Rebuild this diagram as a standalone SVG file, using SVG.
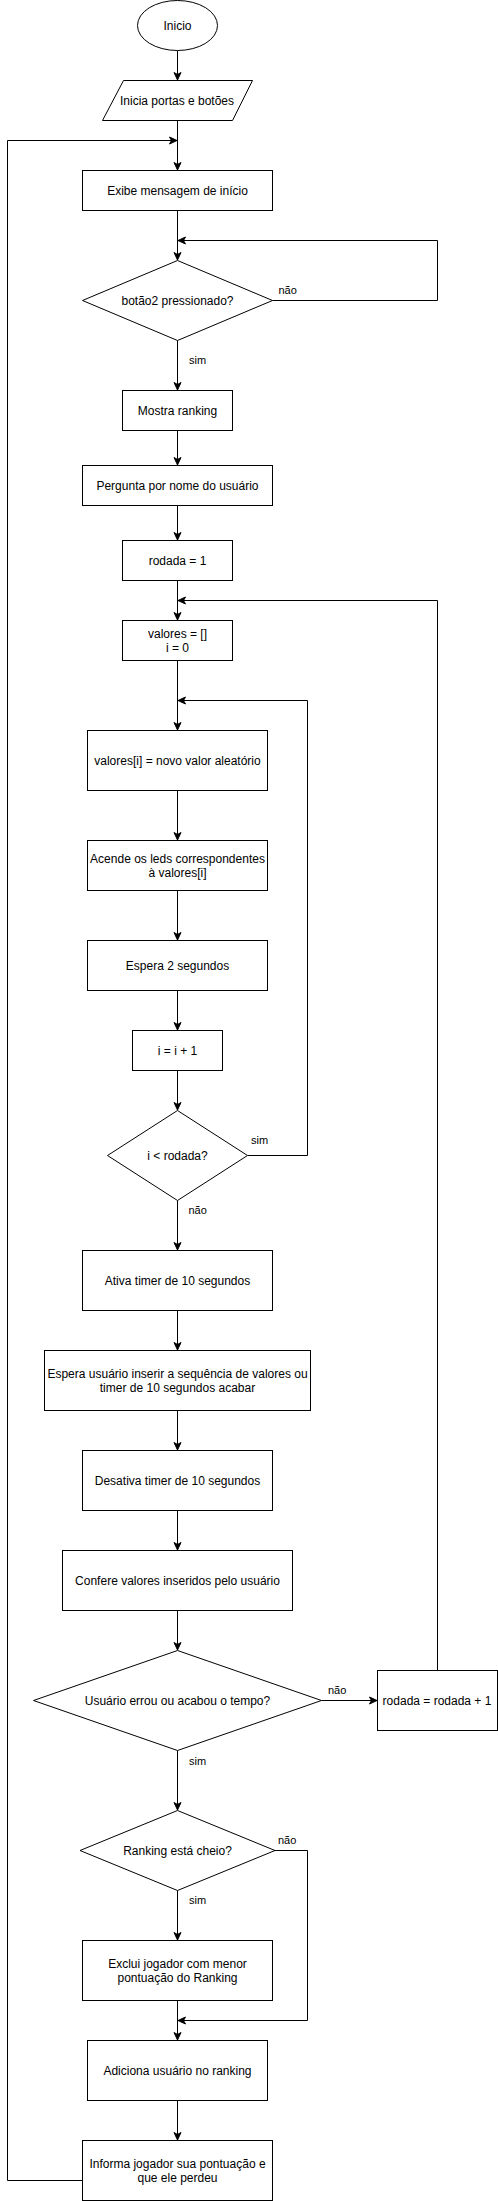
<svg xmlns="http://www.w3.org/2000/svg" width="498" height="2201" viewBox="0 0 498 2201">
<style>
.s{fill:#fff;stroke:#000;stroke-width:1}
.t{font-family:"Liberation Sans",Arial,sans-serif;font-size:12px;fill:#000;text-anchor:middle}
.l{font-family:"Liberation Sans",Arial,sans-serif;font-size:11px;fill:#000}
.c{fill:none;stroke:#000;stroke-width:1;marker-end:url(#arr)}
</style>
<defs>
<marker id="arr" markerUnits="userSpaceOnUse" markerWidth="10" markerHeight="10" viewBox="0 0 10 10" refX="9" refY="5" orient="auto">
<path d="M1.5,1.5 L9,5 L1.5,8.5 L3.5,5 Z" fill="#000" stroke="#000" stroke-width="1"/>
</marker>
</defs>
<rect width="498" height="2201" fill="#fff"/>
<g id="connectors">
<path class="c" d="M177.5,50.5 V80"/>
<path class="c" d="M177.5,120.5 V170"/>
<path class="c" d="M82.5,2180.5 H7.5 V140.5 H177"/>
<path class="c" d="M177.5,210.5 V260"/>
<path class="c" d="M272.5,300.5 H437.5 V240.5 H178"/>
<path class="c" d="M177.5,340.5 V390"/>
<path class="c" d="M177.5,430.5 V465"/>
<path class="c" d="M177.5,505.5 V540"/>
<path class="c" d="M177.5,580.5 V620"/>
<path class="c" d="M437.5,1670.5 V600.5 H178"/>
<path class="c" d="M177.5,660.5 V730"/>
<path class="c" d="M247.5,1155.5 H307.5 V700.5 H178"/>
<path class="c" d="M177.5,790.5 V840"/>
<path class="c" d="M177.5,890.5 V940"/>
<path class="c" d="M177.5,990.5 V1030"/>
<path class="c" d="M177.5,1070.5 V1110"/>
<path class="c" d="M177.5,1200.5 V1250"/>
<path class="c" d="M177.5,1310.5 V1350"/>
<path class="c" d="M177.5,1410.5 V1450"/>
<path class="c" d="M177.5,1510.5 V1550"/>
<path class="c" d="M177.5,1610.5 V1650"/>
<path class="c" d="M321.5,1700.5 H377"/>
<path class="c" d="M177.5,1750.5 V1810"/>
<path class="c" d="M275,1850.5 H307.5 V2020.5 H178"/>
<path class="c" d="M177.5,1890.5 V1940"/>
<path class="c" d="M177.5,2000.5 V2040"/>
<path class="c" d="M177.5,2100.5 V2140"/>
<text class="l" x="278.5" y="294">não</text>
<text class="l" x="189" y="364">sim</text>
<text class="l" x="251" y="1144">sim</text>
<text class="l" x="188.5" y="1214">não</text>
<text class="l" x="328" y="1694">não</text>
<text class="l" x="189" y="1765">sim</text>
<text class="l" x="278" y="1844">não</text>
<text class="l" x="189" y="1904">sim</text>
</g>
<g id="inicio"><ellipse class="s" cx="177.5" cy="25.5" rx="40" ry="25"/><text class="t" x="177.5" y="29.5">Inicio</text></g>
<g id="inicia-portas"><polygon class="s" points="123.5,80.5 252.5,80.5 232.5,120.5 102.5,120.5"/><text class="t" x="177" y="104.5">Inicia portas e botões</text></g>
<g id="exibe-mensagem"><rect class="s" x="82.5" y="170.5" width="190" height="40"/><text class="t" x="177.5" y="194.5">Exibe mensagem de início</text></g>
<g id="botao2"><polygon class="s" points="177.5,260.5 272.5,300.5 177.5,340.5 82.5,300.5"/><text class="t" x="177.5" y="304.5">botão2 pressionado?</text></g>
<g id="mostra-ranking"><rect class="s" x="122.5" y="390.5" width="110" height="40"/><text class="t" x="177.5" y="414.5">Mostra ranking</text></g>
<g id="pergunta-nome"><rect class="s" x="82.5" y="465.5" width="190" height="40"/><text class="t" x="177.5" y="489.5">Pergunta por nome do usuário</text></g>
<g id="rodada-1"><rect class="s" x="122.5" y="540.5" width="110" height="40"/><text class="t" x="177.5" y="564.5">rodada = 1</text></g>
<g id="valores-init"><rect class="s" x="122.5" y="620.5" width="110" height="40"/><text class="t" x="177.5" y="637.5">valores = []</text><text class="t" x="177.5" y="651.5">i = 0</text></g>
<g id="novo-valor"><rect class="s" x="87.5" y="730.5" width="180" height="60"/><text class="t" x="177.5" y="764.5">valores[i] = novo valor aleatório</text></g>
<g id="acende-leds"><rect class="s" x="87.5" y="840.5" width="180" height="50"/><text class="t" x="177.5" y="862.5">Acende os leds correspondentes</text><text class="t" x="177.5" y="876.5">à valores[i]</text></g>
<g id="espera-2s"><rect class="s" x="87.5" y="940.5" width="180" height="50"/><text class="t" x="177.5" y="969.5">Espera 2 segundos</text></g>
<g id="i-inc"><rect class="s" x="132.5" y="1030.5" width="90" height="40"/><text class="t" x="177.5" y="1054.5">i = i + 1</text></g>
<g id="i-menor"><polygon class="s" points="177.5,1110.5 247.5,1155.5 177.5,1200.5 107.5,1155.5"/><text class="t" x="177.5" y="1159.5">i &lt; rodada?</text></g>
<g id="ativa-timer"><rect class="s" x="82.5" y="1250.5" width="190" height="60"/><text class="t" x="177.5" y="1284.5">Ativa timer de 10 segundos</text></g>
<g id="espera-usuario"><rect class="s" x="44.5" y="1350.5" width="266" height="60"/><text class="t" x="177.5" y="1377.5">Espera usuário inserir a sequência de valores ou</text><text class="t" x="177.5" y="1391.5">timer de 10 segundos acabar</text></g>
<g id="desativa-timer"><rect class="s" x="82.5" y="1450.5" width="190" height="60"/><text class="t" x="177.5" y="1484.5">Desativa timer de 10 segundos</text></g>
<g id="confere"><rect class="s" x="62.5" y="1550.5" width="230" height="60"/><text class="t" x="177.5" y="1584.5">Confere valores inseridos pelo usuário</text></g>
<g id="errou"><polygon class="s" points="177.5,1650.5 321.5,1700.5 177.5,1750.5 33.5,1700.5"/><text class="t" x="177.5" y="1704.5">Usuário errou ou acabou o tempo?</text></g>
<g id="rodada-inc"><rect class="s" x="377.5" y="1670.5" width="120" height="60"/><text class="t" x="437" y="1704.5">rodada = rodada + 1</text></g>
<g id="ranking-cheio"><polygon class="s" points="177.5,1810.5 275,1850.5 177.5,1890.5 80,1850.5"/><text class="t" x="177.5" y="1854.5">Ranking está cheio?</text></g>
<g id="exclui"><rect class="s" x="82.5" y="1940.5" width="190" height="60"/><text class="t" x="177.5" y="1967.5">Exclui jogador com menor</text><text class="t" x="177.5" y="1981.5">pontuação do Ranking</text></g>
<g id="adiciona"><rect class="s" x="87.5" y="2040.5" width="180" height="60"/><text class="t" x="177.5" y="2074.5">Adiciona usuário no ranking</text></g>
<g id="informa"><rect class="s" x="82.5" y="2140.5" width="190" height="60"/><text class="t" x="177.5" y="2167.5">Informa jogador sua pontuação e</text><text class="t" x="177.5" y="2181.5">que ele perdeu</text></g>
</svg>
